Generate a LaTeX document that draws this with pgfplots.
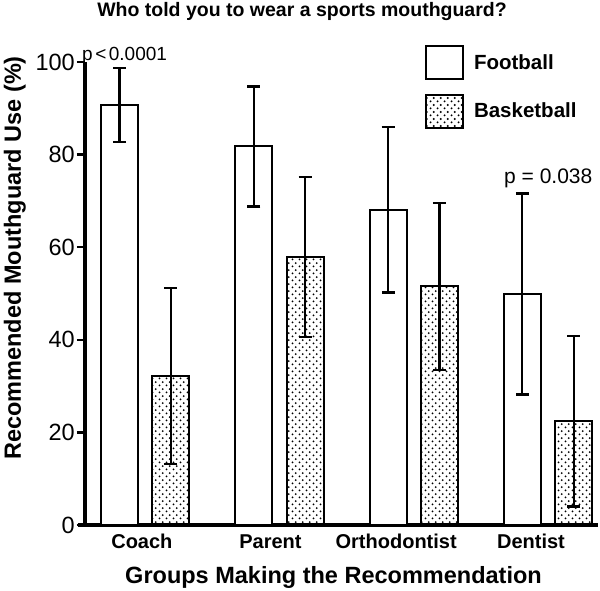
\documentclass[border=0pt]{standalone}
\usepackage{fontspec}
\setmainfont{Liberation Sans}
\usepackage{pgfplots}
\pgfplotsset{compat=1.18}
\usetikzlibrary{patterns.meta}
\tikzdeclarepattern{
  name=refdots, type=uncolored,
  bounding box={(0pt,0pt) and (6.6pt,7.2pt)},
  tile size={(6.6pt,7.2pt)},
  code={\fill (1.65pt,1.8pt) circle (1.1pt); \fill (4.95pt,5.4pt) circle (1.1pt);}
}
\begin{document}
\begin{tikzpicture}[x=1pt,y=1pt]
\useasboundingbox (0,0) rectangle (600,591);
\begin{axis}[
  at={(85pt,66pt)}, anchor=south west,
  scale only axis, width=513pt, height=463pt,
  xmin=-0.4488, xmax=3.3724, ymin=0, ymax=100,
  clip=false,
  ybar=14.4pt, bar width=0.2756,
  every axis plot post/.append style={/pgfplots/legend image code/.code={\draw[##1, line width=2pt] (0pt,-16.5pt) rectangle (37pt,16.5pt);}},
  axis x line*=bottom, axis y line*=left,
  axis line style={line width=3.2pt, black},
  x axis line style={shorten <=-7pt},
  ytick={0,20,40,60,80,100},
  tick align=outside, major tick length=8pt,
  ytick style={line width=2.5pt, black},
  xtick={-0.025,0.933,1.869,2.873},
  xticklabels={Coach,Parent,Orthodontist,Dentist},
  xtick style={draw=none},
  xticklabel style={font=\fontsize{20}{24}\selectfont\bfseries, anchor=base, yshift=-16pt},
  yticklabel style={font=\fontsize{23.5}{28}\selectfont, anchor=east, inner sep=0pt, xshift=-2pt},
  /pgf/number format/assume math mode=true,
  xlabel={Groups Making the Recommendation},
  every axis x label/.style={at={(axis description cs:0.4844,-0.1253)}, anchor=base, font=\fontsize{23.5}{28}\selectfont\bfseries},
  ylabel={Recommended Mouthguard Use (\%)},
  every axis y label/.style={at={(axis description cs:-0.1248,0.5767)}, rotate=90, anchor=base, font=\fontsize{23.5}{28}\selectfont\bfseries},
  legend style={at={(axis description cs:0.6628,1.0367)}, anchor=north west, draw=none, fill=none, inner sep=0pt, outer sep=0pt, row sep=13.5pt, font=\fontsize{20.5}{24}\selectfont\bfseries, nodes={inner sep=0pt, anchor=west}, /tikz/every odd column/.append style={column sep=10pt}},
  legend cell align=left,
]
\addplot[draw=black, line width=2pt, fill=white,
  error bars/.cd, y dir=both, y explicit, error mark=|,
  error bar style={line width=2.2pt, black},
  error mark options={line width=2.2pt, mark size=6.5pt, black}]
  coordinates {(0,90.75) +- (0,7.95) (1,81.75) +- (0,12.95) (2,68.1) +- (0,17.9) (3,49.9) +- (0,21.7)};
\addlegendentry{Football}
\addplot[draw=black, line width=2pt, pattern=refdots, pattern color=black,
  error bars/.cd, y dir=both, y explicit, error mark=|,
  error bar style={line width=2.2pt, black},
  error mark options={line width=2.2pt, mark size=6.5pt, black}]
  coordinates {(0,32.2) +- (0,19) (1,57.9) +- (0,17.3) (2,51.55) +- (0,18.05) (3,22.4) +- (0,18.4)};
\addlegendentry{Basketball}
\node[anchor=base, inner sep=0pt, font=\fontsize{19.5}{23}\selectfont\bfseries] at (axis description cs:0.423,1.0972) {Who told you to wear a sports mouthguard?};
\node[anchor=base west, inner sep=0pt, font=\fontsize{19}{23}\selectfont] at (axis cs:-0.4711,100.4) {p\hspace{2.5pt}<\hspace{2.5pt}0.0001};
\node[anchor=base west, inner sep=0pt, font=\fontsize{21}{25}\selectfont] at (axis cs:2.672,73.65) {p = 0.038};
\end{axis}
\end{tikzpicture}
\end{document}
